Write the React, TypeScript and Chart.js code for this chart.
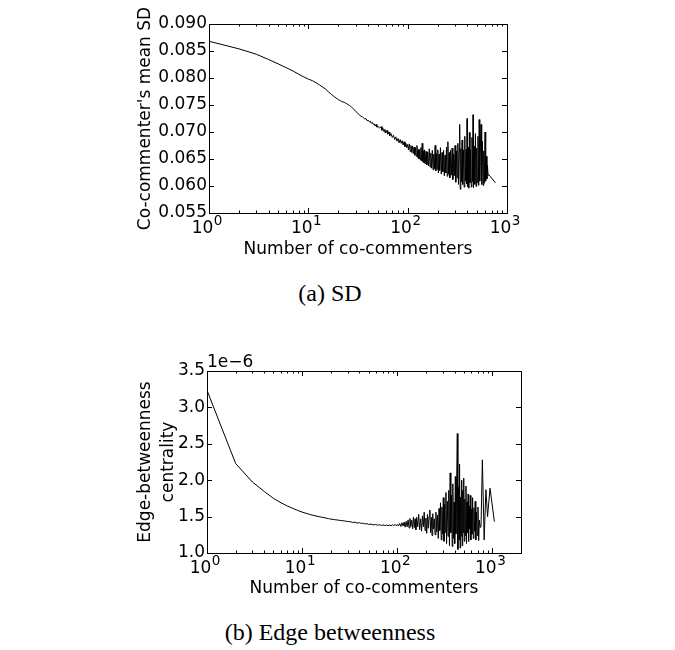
import React, { useEffect, useRef } from 'react';
import { Chart, registerables } from 'chart.js';

Chart.register(...registerables);

const FONT = "'DejaVu Sans', sans-serif";

// ---------- (a) SD ----------
const sdX = [
  1, 2, 3, 4, 5, 6, 7, 8, 9, 10, 11, 12, 13, 14, 15, 16, 17, 18, 19, 20,
  21, 22, 23, 24, 25, 26, 27, 28, 29, 30, 31, 32, 33, 34, 35, 36, 37, 38, 39, 40,
  41, 42, 43, 44, 45, 46, 47, 48, 49, 50, 52, 54, 55, 56, 58, 59, 60, 62, 63, 65,
  66, 68, 70, 72, 74, 76, 78, 80, 82, 84, 86, 88, 90, 92, 94, 96, 98,
  100, 102, 104, 106, 108, 110, 112, 114, 116, 118, 120, 122, 124, 126, 128, 130, 132, 134, 136, 138,
  140, 142, 144, 146, 148, 150, 153, 156, 159, 162, 165, 168, 171, 174, 177, 180, 183, 186, 189, 192,
  195, 198, 201, 204, 207, 210, 214, 218, 222, 226, 230, 234, 238, 242, 246, 250, 254, 258, 262, 266,
  270, 275, 280, 285, 290, 295, 300, 305, 310, 315, 320, 325, 330, 334, 338, 343, 348, 353, 358, 364,
  370, 376, 382, 388, 393, 396, 400, 406, 412, 418, 424, 430, 437, 444, 450, 455, 460, 467, 474, 481,
  488, 495, 502, 510, 519, 525, 532, 540, 548, 556, 565, 574, 583, 592, 601, 610, 620, 628, 636, 645,
  655, 764,
];
const sdY = [
  0.0868, 0.0854, 0.0844, 0.0834, 0.0826, 0.0819, 0.0813, 0.0807, 0.0802, 0.0798, 0.0795, 0.0791, 0.0787, 0.0783, 0.0779, 0.0774, 0.0770, 0.0766, 0.0763, 0.0760,
  0.0758, 0.0756, 0.0755, 0.0753, 0.0751, 0.0749, 0.0747, 0.0744, 0.0741, 0.0738, 0.0736, 0.0733, 0.0731, 0.0729, 0.0728, 0.0726, 0.0724, 0.0725, 0.0721, 0.0722,
  0.0719, 0.0720, 0.0716, 0.0718, 0.0714, 0.0715, 0.0711, 0.0714, 0.0709, 0.0711, 0.0707, 0.0710, 0.0703, 0.0708, 0.0700, 0.0705, 0.0698, 0.0703, 0.0696, 0.0700,
  0.0693, 0.0697, 0.0690, 0.0694, 0.0686, 0.0691, 0.0683, 0.0688, 0.0680, 0.0686, 0.0679, 0.0684, 0.0676, 0.0682, 0.0673, 0.0679, 0.0671,
  0.0677, 0.0667, 0.0678, 0.0664, 0.0675, 0.0662, 0.0674, 0.0660, 0.0672, 0.0657, 0.0671, 0.0655, 0.0675, 0.0653, 0.0668, 0.0650, 0.0667, 0.0648, 0.0671, 0.0647,
  0.0679, 0.0645, 0.0665, 0.0643, 0.0667, 0.0641, 0.0664, 0.0639, 0.0663, 0.0637, 0.0669, 0.0635, 0.0661, 0.0633, 0.0666, 0.0630, 0.0659, 0.0632, 0.0675, 0.0628,
  0.0660, 0.0631, 0.0667, 0.0624, 0.0659, 0.0629, 0.0671, 0.0622, 0.0662, 0.0626, 0.0666, 0.0619, 0.0657, 0.0624, 0.0672, 0.0618, 0.0682, 0.0622, 0.0662, 0.0615,
  0.0666, 0.0620, 0.0670, 0.0612, 0.0659, 0.0619, 0.0675, 0.0607, 0.0665, 0.0615, 0.0679, 0.0603, 0.0664, 0.0714, 0.0594, 0.0669, 0.0608, 0.0685, 0.0603, 0.0667,
  0.0598, 0.0692, 0.0609, 0.0668, 0.0604, 0.0725, 0.0599, 0.0672, 0.0596, 0.0699, 0.0606, 0.0667, 0.0598, 0.0690, 0.0608, 0.0732, 0.0597, 0.0674, 0.0603, 0.0697,
  0.0599, 0.0670, 0.0606, 0.0692, 0.0601, 0.0723, 0.0609, 0.0672, 0.0714, 0.0603, 0.0683, 0.0601, 0.0665, 0.0605, 0.0700, 0.0609, 0.0655, 0.0613, 0.0638, 0.0620,
  0.0621, 0.0606,
];
const sdYTicks = [0.055, 0.06, 0.065, 0.07, 0.075, 0.08, 0.085, 0.09];
const sdXTicks = [1, 10, 100, 1000];
const sdXMax = 1000;

// ---------- (b) Edge betweenness (values in units of 1e-6) ----------
const ebX = [
  1, 2, 3, 4, 5, 6, 7, 8, 9, 10, 11, 12, 13, 14, 15, 16, 17, 18, 19, 20,
  22, 24, 26, 28, 30, 32, 34, 36, 38, 40, 42, 44, 46, 48, 50, 53, 56, 59, 62, 65,
  68, 71, 74, 77, 80, 83, 86, 89, 92, 95, 98,
  100, 103, 106, 109, 112, 115, 118, 121, 124, 127, 130, 133, 136, 139, 142, 145, 148, 151, 154, 157,
  160, 164, 168, 172, 176, 180, 184, 188, 192, 196, 200, 204, 208, 212, 216, 220, 224, 228, 232, 236,
  240, 245, 250, 255, 260, 265, 270, 275, 280, 285, 290, 295, 300, 305, 310, 315, 320, 325, 330, 336,
  342, 348, 354, 360, 366, 372, 378, 384, 390, 396, 402, 408, 414, 420, 428, 434, 440, 446, 452, 458,
  464, 470, 476, 482, 488, 494, 500, 507, 514, 521, 528, 535, 542, 549, 556, 563, 570, 578, 586, 594,
  602, 610, 620, 630, 640, 650, 660, 670, 682, 694, 706, 718, 730, 745, 760, 785, 820, 855, 890, 945,
  1050,
];
const ebY = [
  3.235, 2.23, 1.975, 1.845, 1.75, 1.69, 1.645, 1.612, 1.585, 1.562, 1.545, 1.53, 1.518, 1.508, 1.5, 1.492, 1.486, 1.478, 1.472, 1.466,
  1.458, 1.451, 1.445, 1.44, 1.433, 1.43, 1.42, 1.424, 1.41, 1.418, 1.405, 1.41, 1.398, 1.404, 1.392, 1.397, 1.386, 1.392, 1.382, 1.388,
  1.379, 1.386, 1.377, 1.384, 1.376, 1.385, 1.374, 1.388, 1.376, 1.392, 1.373,
  1.392, 1.372, 1.405, 1.365, 1.415, 1.37, 1.425, 1.355, 1.435, 1.36, 1.455, 1.345, 1.475, 1.365, 1.45, 1.33, 1.495, 1.35, 1.47, 1.32,
  1.49, 1.36, 1.53, 1.32, 1.47, 1.3, 1.51, 1.36, 1.56, 1.31, 1.48, 1.27, 1.53, 1.34, 1.5, 1.59, 1.28, 1.49, 1.24, 1.54,
  1.33, 1.47, 1.25, 1.56, 1.29, 1.52, 1.2, 1.61, 1.31, 1.69, 1.18, 1.63, 1.26, 1.76, 1.16, 1.67, 1.28, 1.83, 1.13, 1.71,
  1.23, 1.86, 1.1, 2.1, 1.28, 1.79, 1.09, 1.95, 1.2, 1.7, 1.13, 2.05, 1.26, 1.82, 2.64, 1.05, 1.91, 1.18, 2.22, 1.07,
  1.77, 1.23, 2.0, 1.1, 1.86, 1.28, 2.03, 1.16, 1.74, 1.24, 1.92, 1.13, 1.7, 1.28, 1.81, 1.16, 1.64, 1.33, 1.79, 1.18,
  1.6, 1.26, 1.76, 1.2, 1.62, 1.3, 1.71, 1.18, 1.56, 1.24, 1.63, 1.17, 1.45, 1.35, 1.36, 2.28, 1.18, 1.87, 1.5, 1.89,
  1.43,
];
const ebYTicks = [1.0, 1.5, 2.0, 2.5, 3.0, 3.5];
const ebXTicks = [1, 10, 100, 1000];
const ebXMax = 2000;
const ebOffsetText = '1e\u22126';

const X_TITLE = 'Number of co-commenters';
const SD_Y_TITLE = "Co-commenter's mean SD";
const EB_Y_TITLE = ['Edge-betweenness', 'centrality'];

const mplAxes = {
  id: 'mplAxes',
  afterDatasetsDraw(chart: any, _args: any, opts: any) {
    const { ctx, chartArea } = chart;
    const { left, right, top, bottom } = chartArea;
    const xs = chart.scales.x;
    const ys = chart.scales.y;
    const MAJ = 5;
    const MIN = 2.5;
    ctx.save();
    ctx.strokeStyle = '#000';
    ctx.lineWidth = 1;
    ctx.beginPath();
    ys.ticks.forEach((t: any) => {
      const p = Math.round(ys.getPixelForValue(t.value)) + 0.5;
      ctx.moveTo(left, p); ctx.lineTo(left + MAJ, p);
      ctx.moveTo(right, p); ctx.lineTo(right - MAJ, p);
    });
    xs.ticks.forEach((t: any) => {
      const p = Math.round(xs.getPixelForValue(t.value)) + 0.5;
      ctx.moveTo(p, bottom); ctx.lineTo(p, bottom - MAJ);
      ctx.moveTo(p, top); ctx.lineTo(p, top + MAJ);
    });
    for (let dec = 1; dec < xs.max; dec *= 10) {
      for (let m = 2; m < 10; m++) {
        const v = dec * m;
        if (v > xs.max) break;
        const p = Math.round(xs.getPixelForValue(v)) + 0.5;
        ctx.moveTo(p, bottom); ctx.lineTo(p, bottom - MIN);
        ctx.moveTo(p, top); ctx.lineTo(p, top + MIN);
      }
    }
    ctx.stroke();
    ctx.strokeRect(left + 0.5, top + 0.5, right - left, bottom - top);

    // x tick labels: 10 with a raised exponent, as in the reference
    ctx.fillStyle = '#000';
    ctx.textBaseline = 'alphabetic';
    ctx.textAlign = 'left';
    xs.ticks.forEach((t: any) => {
      const p = xs.getPixelForValue(t.value);
      const base = '10';
      const exp = String(Math.round(Math.log10(t.value)));
      ctx.font = `17px ${FONT}`;
      const w1 = ctx.measureText(base).width;
      ctx.font = `13.5px ${FONT}`;
      const w2 = ctx.measureText(exp).width;
      const x0 = p - (w1 + w2 + 0.5) / 2 - 2;
      const yb = bottom + 20;
      ctx.font = `17px ${FONT}`;
      ctx.fillText(base, x0, yb);
      ctx.font = `13.5px ${FONT}`;
      ctx.fillText(exp, x0 + w1 + 0.5, yb - 8);
    });

    if (opts && opts.offsetText) {
      ctx.font = `17px ${FONT}`;
      ctx.textAlign = 'left';
      ctx.textBaseline = 'alphabetic';
      ctx.fillText(opts.offsetText, left, top - 4);
    }
    ctx.restore();
  },
};

function makeConfig(p: any) {
  return {
    type: 'line',
    data: {
      datasets: [
        {
          data: p.xs.map((x: number, i: number) => ({ x, y: p.ys[i] })),
          borderColor: '#000',
          borderWidth: 1,
          pointRadius: 0,
          tension: 0,
          fill: false,
        },
      ],
    },
    options: {
      responsive: false,
      animation: false,
      events: [],
      layout: { padding: p.padding },
      plugins: {
        legend: { display: false },
        tooltip: { enabled: false },
        mplAxes: { offsetText: p.offsetText },
      },
      scales: {
        x: {
          type: 'logarithmic',
          min: 1,
          max: p.xMax,
          grid: { display: false, drawTicks: false, tickLength: 0 },
          border: { display: false },
          afterBuildTicks: (s: any) => { s.ticks = p.xTicks.map((v: number) => ({ value: v })); },
          afterFit: (s: any) => { s.height = p.xHeight; },
          ticks: { display: false, autoSkip: false, maxRotation: 0, minRotation: 0 },
          title: {
            display: true,
            text: X_TITLE,
            color: '#000',
            font: { family: FONT, size: 17, lineHeight: 1.2 },
            padding: 0,
          },
        },
        y: {
          type: 'linear',
          min: p.yMin,
          max: p.yMax,
          grid: { display: false, drawTicks: false, tickLength: 0 },
          border: { display: false },
          afterBuildTicks: (s: any) => { s.ticks = p.yTicks.map((v: number) => ({ value: v })); },
          afterFit: (s: any) => { s.width = p.yWidth; },
          ticks: {
            padding: 2,
            color: '#000',
            font: { family: FONT, size: 17 },
            callback: (v: any) => Number(v).toFixed(p.yDigits),
          },
          title: {
            display: true,
            text: p.yTitle,
            color: '#000',
            font: { family: FONT, size: 17, lineHeight: p.yTitleLH },
            padding: 0,
          },
        },
      },
    },
    plugins: [mplAxes],
  };
}

function ChartCanvas({ config, width, height, top }: any) {
  const ref = useRef<HTMLCanvasElement | null>(null);
  useEffect(() => {
    const c = new Chart(ref.current as HTMLCanvasElement, config);
    return () => c.destroy();
  }, []);
  return (
    <canvas
      ref={ref}
      width={width}
      height={height}
      style={{ position: 'absolute', left: 0, top, width, height }}
    />
  );
}

const configA = makeConfig({
  xs: sdX, ys: sdY, xMax: sdXMax, xTicks: sdXTicks,
  yMin: 0.055, yMax: 0.09, yTicks: sdYTicks, yDigits: 3,
  yTitle: SD_Y_TITLE, yTitleLH: 1.2,
  padding: { left: 135, right: 168, top: 24, bottom: 10 },
  yWidth: 74, xHeight: 47,
});

const configB = makeConfig({
  xs: ebX, ys: ebY, xMax: ebXMax, xTicks: ebXTicks,
  yMin: 1.0, yMax: 3.5, yTicks: ebYTicks, yDigits: 1,
  yTitle: EB_Y_TITLE, yTitleLH: 23 / 17,
  padding: { left: 134, right: 154, top: 51, bottom: 11 },
  yWidth: 73, xHeight: 46,
  offsetText: ebOffsetText,
});

const captionStyle: any = {
  position: 'absolute',
  left: 0,
  width: 660,
  textAlign: 'center',
  fontFamily: "'Liberation Serif', 'Times New Roman', serif",
  fontSize: 24,
  lineHeight: '24px',
  color: '#000',
};

export default function App() {
  return (
    <div style={{ position: 'absolute', left: 0, top: 0, width: 675, height: 650, background: '#fff' }}>
      <ChartCanvas config={configA} width={675} height={270} top={0} />
      <div style={{ ...captionStyle, top: 281 }}>(a) SD</div>
      <ChartCanvas config={configB} width={675} height={290} top={320} />
      <div style={{ ...captionStyle, top: 620 }}>(b) Edge betweenness</div>
    </div>
  );
}
